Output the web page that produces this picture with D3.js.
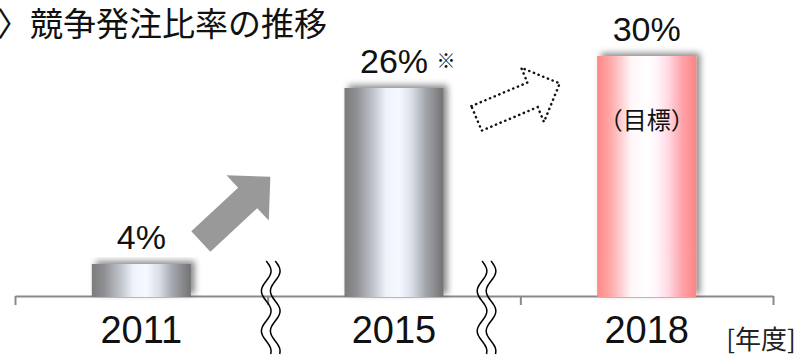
<!DOCTYPE html>
<html>
<head>
<meta charset="utf-8">
<script src="https://cdn.jsdelivr.net/npm/d3@7"></script>
<style>
  body { margin: 0; background: #fff; }
  svg { display: block; }
</style>
</head>
<body>
<svg width="804" height="355"></svg>
<script>
const svg = d3.select("svg");

// chart data
const years = ["2011", "2015", "2018"];
const ratios = [4, 26, 30];
const ratioLabels = ["4%", "26%", "30%"];
const notes = ["", "※", ""];
const isTarget = [false, false, true];
const targetText = "（目標）";
const titleText = "〉競争発注比率の推移";
const unitText = "[年度]";

const baseY = 296;

// band scale for bars, linear scale for the category boundaries
const x = d3.scaleBand()
  .domain(years)
  .range([15, 773])
  .paddingInner(0.608)
  .paddingOuter(0.304);

const y = d3.scaleLinear()
  .domain([0, 30])
  .range([baseY, 56]);

const edges = d3.scaleLinear()
  .domain([0, years.length])
  .range([15, 773]);

const defs = svg.append("defs");

// metallic grey gradient
let g1 = defs.append("linearGradient").attr("id", "greyGrad")
  .attr("x1", "0%").attr("x2", "100%").attr("y1", "0%").attr("y2", "0%");
[[0, "#7b7b7b"], [0.12, "#8e8f92"], [0.3, "#c3c7cf"], [0.42, "#eef3fb"],
 [0.55, "#f6f9ff"], [0.68, "#d9dee8"], [0.82, "#a2a5ab"], [1, "#727272"]]
  .forEach(s => g1.append("stop").attr("offset", s[0]).attr("stop-color", s[1]));

// pink gradient for the target bar
let g2 = defs.append("linearGradient").attr("id", "pinkGrad")
  .attr("x1", "0%").attr("x2", "100%").attr("y1", "0%").attr("y2", "0%");
[[0, "#ff8888"], [0.12, "#ffa4a4"], [0.25, "#ffd2d4"], [0.34, "#fff6f8"],
 [0.5, "#ffffff"], [0.6, "#fff4fa"], [0.72, "#ffd8e2"], [0.86, "#ffa2a8"], [1, "#ff8585"]]
  .forEach(s => g2.append("stop").attr("offset", s[0]).attr("stop-color", s[1]));

let shadow = defs.append("filter").attr("id", "shadow")
  .attr("x", "-20%").attr("y", "-20%").attr("width", "140%").attr("height", "140%");
shadow.append("feDropShadow")
  .attr("dx", 4).attr("dy", -3)
  .attr("stdDeviation", 3)
  .attr("flood-color", "#000")
  .attr("flood-opacity", 0.45);

// title
svg.append("text")
  .attr("x", -3)
  .attr("y", 36)
  .attr("font-family", "'Noto Sans CJK JP', sans-serif")
  .attr("font-size", 33)
  .attr("fill", "#111")
  .text(titleText);

// axis with ticks on the category boundaries
const axis = svg.append("g")
  .attr("transform", `translate(0, ${baseY})`)
  .call(d3.axisBottom(edges)
    .tickValues(d3.range(years.length + 1))
    .tickFormat("")
    .tickSize(9)
    .tickSizeOuter(0));
axis.select(".domain").attr("stroke", "#8a8a8a").attr("stroke-width", 2);
axis.selectAll(".tick line").attr("stroke", "#8a8a8a").attr("stroke-width", 2);

const data = years.map((d, i) => ({
  year: d, ratio: ratios[i], label: ratioLabels[i], note: notes[i], target: isTarget[i]
}));

// bars
svg.selectAll(".bar")
  .data(data)
  .enter()
  .append("rect")
  .attr("class", "bar")
  .attr("x", d => x(d.year))
  .attr("y", d => y(d.ratio))
  .attr("width", x.bandwidth())
  .attr("height", d => baseY + 1 - y(d.ratio))
  .attr("fill", d => d.target ? "url(#pinkGrad)" : "url(#greyGrad)")
  .attr("filter", "url(#shadow)");

// value labels
svg.selectAll(".val")
  .data(data)
  .enter()
  .append("text")
  .attr("class", "val")
  .attr("x", d => x(d.year) + x.bandwidth() / 2)
  .attr("y", d => y(d.ratio) - 15)
  .attr("text-anchor", "middle")
  .attr("font-family", "'Liberation Sans', Arial, sans-serif")
  .attr("font-size", 34)
  .attr("fill", "#111")
  .text(d => d.label);

svg.selectAll(".note")
  .data(data.filter(d => d.note))
  .enter()
  .append("text")
  .attr("class", "note")
  .attr("x", d => x(d.year) + x.bandwidth() / 2 + 52)
  .attr("y", d => y(d.ratio) - 29)
  .attr("text-anchor", "middle")
  .attr("dominant-baseline", "central")
  .attr("font-family", "'Noto Sans CJK JP', sans-serif")
  .attr("font-size", 19)
  .attr("fill", "#111")
  .text(d => d.note);

svg.selectAll(".target")
  .data(data.filter(d => d.target))
  .enter()
  .append("text")
  .attr("class", "target")
  .attr("x", d => x(d.year) + x.bandwidth() / 2)
  .attr("y", d => y(d.ratio) + 62)
  .attr("text-anchor", "middle")
  .attr("dominant-baseline", "central")
  .attr("font-family", "'Noto Sans CJK JP', sans-serif")
  .attr("font-size", 24)
  .attr("fill", "#111")
  .text(targetText);

// year labels
svg.selectAll(".year")
  .data(data)
  .enter()
  .append("text")
  .attr("class", "year")
  .attr("x", d => x(d.year) + x.bandwidth() / 2)
  .attr("y", 343)
  .attr("text-anchor", "middle")
  .attr("font-family", "'Liberation Sans', Arial, sans-serif")
  .attr("font-size", 38)
  .attr("fill", "#111")
  .text(d => d.year);

svg.append("text")
  .attr("x", 761)
  .attr("y", 349)
  .attr("text-anchor", "middle")
  .attr("font-family", "'Noto Sans CJK JP', sans-serif")
  .attr("font-size", 26)
  .attr("fill", "#222")
  .text(unitText);

// break marks between categories (double wavy lines)
const gap = x.step() - x.bandwidth();
const breaks = [
  x("2011") + x.bandwidth() + gap * 0.52,
  x("2015") + x.bandwidth() + gap * 0.28
];
const wave = d3.line().curve(d3.curveBasis);
breaks.forEach(cx => {
  [-4.5, 4.5].forEach(off => {
    let pts = d3.range(261, 356, 3).map(v => [cx + off + 5 * Math.sin((v - 261) / 40 * 2 * Math.PI), v]);
    svg.append("path")
      .attr("d", wave(pts))
      .attr("fill", "none")
      .attr("stroke", "#000")
      .attr("stroke-width", 1.5);
  });
});

// arrows
const arrowShape = [[0, -14], [64, -14], [64, -31], [95, 0], [64, 31], [64, 14], [0, 14]];
const arrowPath = "M" + arrowShape.join("L") + "Z";

svg.append("path")
  .attr("d", arrowPath)
  .attr("transform", `translate(${x("2011") + x.bandwidth() + 10}, ${y(6.8)}) rotate(-43)`)
  .attr("fill", "#999");

svg.append("path")
  .attr("d", arrowPath)
  .attr("transform", `translate(${x("2015") + x.bandwidth() + 33}, ${y(22.2)}) rotate(-22.8) scale(0.95)`)
  .attr("fill", "none")
  .attr("stroke", "#111")
  .attr("stroke-width", 2.6)
  .attr("stroke-linecap", "round")
  .attr("stroke-dasharray", "0.3 5");
</script>
</body>
</html>
